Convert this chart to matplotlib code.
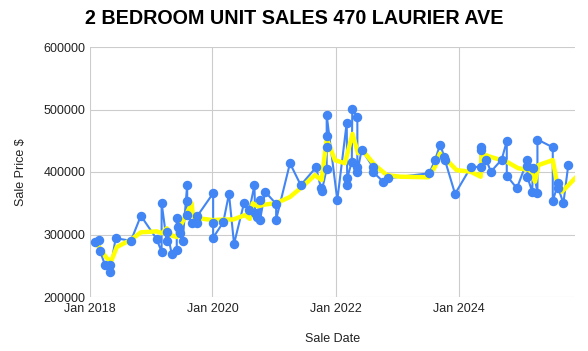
import numpy as np
import pandas as pd
import matplotlib
matplotlib.use('Agg')
import matplotlib.pyplot as plt
import matplotlib.dates as mdates

plt.rcParams['font.family'] = ['Liberation Sans', 'DejaVu Sans']

# sales (date, price)
sale_dates = ['2018-02-03', '2018-02-28', '2018-03-04', '2018-04-02', '2018-05-02', '2018-05-02',
              '2018-06-05', '2018-09-04', '2018-11-02', '2019-02-03', '2019-03-05', '2019-03-05',
              '2019-04-04', '2019-04-08', '2019-05-04', '2019-06-03', '2019-06-03', '2019-06-09',
              '2019-06-23', '2019-07-08', '2019-08-04', '2019-08-04', '2019-08-04', '2019-08-30',
              '2019-10-02', '2019-10-04', '2020-01-05', '2020-01-05', '2020-01-05', '2020-03-05',
              '2020-04-08', '2020-05-08', '2020-07-06', '2020-08-07', '2020-09-06', '2020-09-10',
              '2020-09-20', '2020-10-10', '2020-10-10', '2020-11-08', '2021-01-13', '2021-01-13',
              '2021-04-05', '2021-06-08', '2021-09-07', '2021-10-06', '2021-10-11', '2021-11-09',
              '2021-11-09', '2021-11-09', '2021-11-09', '2022-01-11', '2022-03-08', '2022-03-11',
              '2022-03-11', '2022-04-07', '2022-04-10', '2022-05-10', '2022-05-10', '2022-05-10',
              '2022-06-05', '2022-08-09', '2022-08-09', '2022-10-11', '2022-11-10', '2023-07-11',
              '2023-08-14', '2023-09-13', '2023-10-08', '2023-10-12', '2023-12-11', '2024-03-13',
              '2024-05-11', '2024-05-11', '2024-05-11', '2024-06-12', '2024-07-11', '2024-09-13',
              '2024-10-13', '2024-10-13', '2024-12-12', '2025-02-13', '2025-02-13', '2025-02-13',
              '2025-03-13', '2025-03-17', '2025-04-13', '2025-04-13', '2025-07-13', '2025-07-13',
              '2025-08-15', '2025-08-15', '2025-09-14', '2025-10-13']
sale_prices = [287500, 292000, 274000, 252000, 252000, 239500,
               294000, 290000, 330000, 293000, 272500, 351000,
               290000, 303500, 269000, 275000, 327000, 312500,
               302000, 290000, 380000, 354000, 332000, 319000,
               318000, 330000, 366000, 318000, 295000, 319500,
               365000, 285000, 350000, 339000, 379000, 335000,
               328500, 355000, 324000, 368500, 349000, 324000,
               414000, 379000, 407500, 374000, 370000, 405000,
               440500, 458000, 491000, 355000, 479000, 379000,
               390000, 416500, 501000, 488500, 408500, 400500,
               436000, 408500, 400500, 384500, 390000, 398000,
               419000, 444000, 424500, 419000, 365000, 407500,
               408500, 435000, 439500, 420000, 400500, 420000,
               449500, 394000, 374000, 419000, 410000, 391500,
               368500, 407000, 367000, 452000, 439500, 354000,
               382000, 374000, 350000, 411000]

# yellow trend line vertices
trend_dates = ['2018-02-02', '2018-03-04', '2018-04-08', '2018-05-08', '2018-06-12', '2018-09-04',
               '2018-11-02', '2019-02-05', '2019-03-07', '2019-04-05', '2019-05-05', '2019-06-04',
               '2019-06-22', '2019-08-02', '2019-08-30', '2019-09-08', '2019-10-08', '2020-01-05',
               '2020-03-04', '2020-05-03', '2020-07-11', '2020-08-10', '2020-08-27', '2020-09-26',
               '2020-11-07', '2021-01-12', '2021-04-05', '2021-06-15', '2021-08-31', '2021-10-10',
               '2021-11-09', '2021-12-28', '2022-02-25', '2022-04-11', '2022-05-14', '2022-06-06',
               '2022-08-22', '2022-11-01', '2023-01-18', '2023-07-05', '2023-08-14', '2023-09-12',
               '2023-10-12', '2023-12-20', '2024-03-12', '2024-05-11', '2024-05-17', '2024-07-05',
               '2024-10-12', '2024-12-20', '2025-03-01', '2025-03-30', '2025-04-19', '2025-07-13',
               '2025-08-15', '2025-09-06', '2025-11-22']
trend_prices = [289000, 278000, 264000, 256000, 280000, 291500,
                303500, 305000, 302000, 310000, 298000, 296000,
                312500, 334000, 350000, 328500, 326000, 323000,
                324000, 324000, 331000, 325000, 350000, 345000,
                348000, 350000, 360000, 376000, 395000, 387000,
                453000, 419000, 414000, 461000, 430000, 436000,
                411000, 395000, 392500, 391500, 408500, 429500,
                422000, 403000, 400500, 392500, 429500, 424500,
                416500, 406000, 403000, 384500, 411000, 419000,
                371000, 368500, 390000]

x_sales = pd.to_datetime(sale_dates)
x_trend = pd.to_datetime(trend_dates)

fig = plt.figure(figsize=(5.88, 3.51), dpi=100)
ax = fig.add_axes([89.5/588, 1-297/351, (575-89.5)/588, 250/351])

blue = '#4285F4'
ax.plot(x_sales, sale_prices, color=blue, lw=1.5, zorder=2)
ax.plot(x_trend, trend_prices, color='#FFFF00', lw=3.2, solid_joinstyle='round', zorder=3)
ax.plot(x_sales, sale_prices, 'o', color=blue, ms=5.8, zorder=4)

ax.set_ylim(200000, 600000)
ax.set_yticks([200000, 300000, 400000, 500000, 600000])
ax.yaxis.set_major_formatter(matplotlib.ticker.FuncFormatter(lambda v, p: '%d' % v))
ax.set_xlim(pd.Timestamp('2018-01-01'), pd.Timestamp('2025-11-22'))
ax.xaxis.set_major_locator(mdates.YearLocator(2))
ax.xaxis.set_major_formatter(mdates.DateFormatter('Jan %Y'))

ax.grid(True, color='#cccccc', lw=0.8)
ax.set_axisbelow(True)
for s in ax.spines.values():
    s.set_visible(False)
ax.tick_params(length=0, labelsize=9, colors='#222222', pad=3)
ax.tick_params(axis='x', pad=4)

ax.set_xlabel('Sale Date', fontsize=9, color='#222222', labelpad=13)
ax.set_ylabel('Sale Price $', fontsize=9, color='#222222', labelpad=12)
fig.text(0.5, 1-18/351, '2 BEDROOM UNIT SALES 470 LAURIER AVE', ha='center', va='center',
         fontsize=14.2, fontweight='bold')

fig.savefig('out.png', dpi=100)
